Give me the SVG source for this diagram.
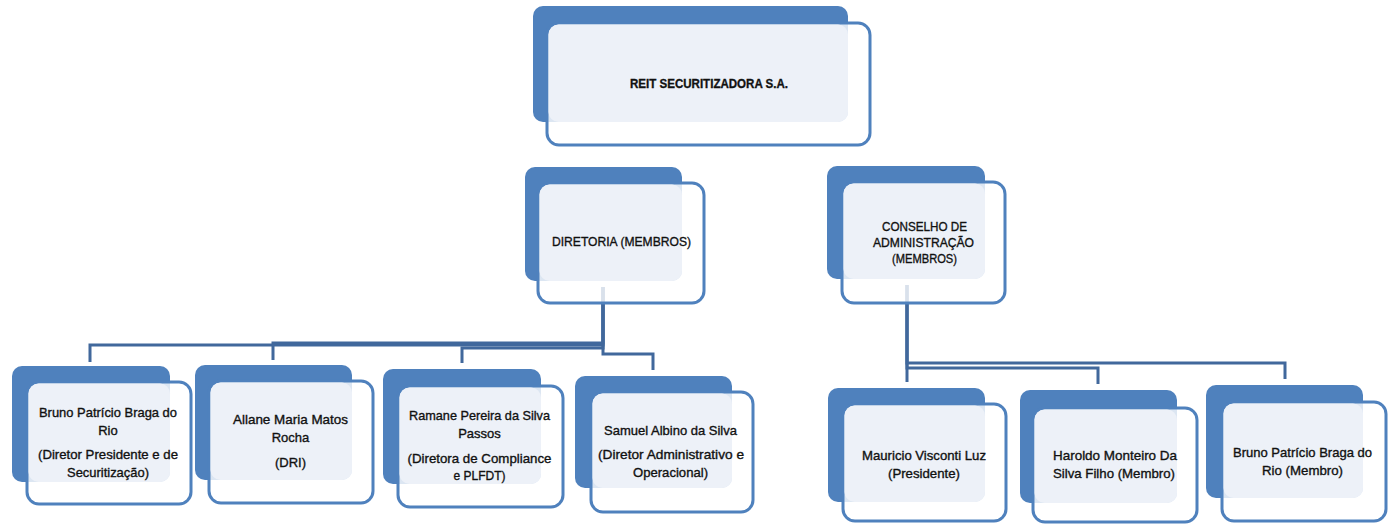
<svg xmlns="http://www.w3.org/2000/svg" width="1395" height="524" viewBox="0 0 1395 524">
<style>
.back{fill:#4F81BD}
.front{fill:#FFFFFF;fill-opacity:0.8;stroke:#4F81BD;stroke-width:3}
.light{fill:#EDF1F8}
.conn{fill:none;stroke:#41689C;stroke-width:3;stroke-linejoin:miter}
text{font-family:"Liberation Sans",Arial,sans-serif;font-size:13px;fill:#111111;stroke:#111111;stroke-width:0.35;text-anchor:middle}
</style>
<rect x="0" y="0" width="1395" height="524" fill="#FFFFFF"/>
<g id="connectors">
<path class="conn" d="M603,287 V345 H90 V362"/>
<path class="conn" d="M603,287 V343 H273 V360"/>
<path class="conn" d="M603,287 V348 H462 V363"/>
<path class="conn" d="M603,287 V354 H653 V370"/>
<path class="conn" d="M907,285 V382"/>
<path class="conn" d="M907,285 V368 H1098 V384"/>
<path class="conn" d="M907,285 V363 H1285 V379"/>
</g>
<g id="node-reit">
<rect class="back" x="533" y="6" width="315" height="116" rx="10"/>
<rect class="front" x="547" y="23" width="323" height="122" rx="12"/>
<rect class="light" x="548.5" y="24.5" width="299.5" height="97.5" rx="10"/>
<text x="709" y="88" textLength="158" lengthAdjust="spacingAndGlyphs" font-weight="bold">REIT SECURITIZADORA S.A.</text>
</g>
<g id="node-diretoria">
<rect class="back" x="525" y="167" width="157" height="114" rx="10"/>
<rect class="front" x="538" y="183" width="166" height="120" rx="12"/>
<rect class="light" x="539.5" y="184.5" width="142.5" height="96.5" rx="10"/>
<text x="621.5" y="246" textLength="139" lengthAdjust="spacingAndGlyphs">DIRETORIA (MEMBROS)</text>
</g>
<g id="node-conselho">
<rect class="back" x="827" y="166" width="158" height="113" rx="10"/>
<rect class="front" x="842" y="182" width="163" height="121" rx="12"/>
<rect class="light" x="843.5" y="183.5" width="141.5" height="95.5" rx="10"/>
<text x="924.5" y="231" textLength="85" lengthAdjust="spacingAndGlyphs">CONSELHO DE</text>
<text x="923.5" y="247" textLength="101" lengthAdjust="spacingAndGlyphs">ADMINISTRAÇÃO</text>
<text x="924.5" y="263" textLength="65" lengthAdjust="spacingAndGlyphs">(MEMBROS)</text>
</g>
<g id="node-bruno-diretor">
<rect class="back" x="12" y="366" width="158" height="116" rx="10"/>
<rect class="front" x="27" y="382" width="164" height="122" rx="12"/>
<rect class="light" x="28.5" y="383.5" width="141.5" height="98.5" rx="10"/>
<text x="108" y="417" textLength="138" lengthAdjust="spacingAndGlyphs">Bruno Patrício Braga do</text>
<text x="108" y="435">Rio</text>
<text x="108" y="459" textLength="140" lengthAdjust="spacingAndGlyphs">(Diretor Presidente e de</text>
<text x="108" y="477" textLength="82" lengthAdjust="spacingAndGlyphs">Securitização)</text>
</g>
<g id="node-allane">
<rect class="back" x="195" y="365" width="157" height="115" rx="10"/>
<rect class="front" x="209" y="381" width="164" height="122" rx="12"/>
<rect class="light" x="210.5" y="382.5" width="141.5" height="97.5" rx="10"/>
<text x="290.5" y="424" textLength="115" lengthAdjust="spacingAndGlyphs">Allane Maria Matos</text>
<text x="290.5" y="442">Rocha</text>
<text x="290.5" y="467">(DRI)</text>
</g>
<g id="node-ramane">
<rect class="back" x="383" y="369" width="158" height="115" rx="10"/>
<rect class="front" x="398" y="386" width="165" height="121" rx="12"/>
<rect class="light" x="399.5" y="387.5" width="141.5" height="96.5" rx="10"/>
<text x="479.5" y="420" textLength="141" lengthAdjust="spacingAndGlyphs">Ramane Pereira da Silva</text>
<text x="479.5" y="438">Passos</text>
<text x="479.5" y="463" textLength="144" lengthAdjust="spacingAndGlyphs">(Diretora de Compliance</text>
<text x="479.5" y="480" textLength="52" lengthAdjust="spacingAndGlyphs">e PLFDT)</text>
</g>
<g id="node-samuel">
<rect class="back" x="575" y="376" width="157" height="112" rx="10"/>
<rect class="front" x="591" y="392" width="162" height="120" rx="12"/>
<rect class="light" x="592.5" y="393.5" width="139.5" height="94.5" rx="10"/>
<text x="670.5" y="435" textLength="133" lengthAdjust="spacingAndGlyphs">Samuel Albino da Silva</text>
<text x="671" y="459" textLength="146" lengthAdjust="spacingAndGlyphs">(Diretor Administrativo e</text>
<text x="670.5" y="477" textLength="75" lengthAdjust="spacingAndGlyphs">Operacional)</text>
</g>
<g id="node-mauricio">
<rect class="back" x="828" y="388" width="157" height="114" rx="10"/>
<rect class="front" x="843" y="404" width="163" height="117" rx="12"/>
<rect class="light" x="844.5" y="405.5" width="140.5" height="96.5" rx="10"/>
<text x="924" y="460" textLength="124" lengthAdjust="spacingAndGlyphs">Mauricio Visconti Luz</text>
<text x="924" y="478" textLength="72" lengthAdjust="spacingAndGlyphs">(Presidente)</text>
</g>
<g id="node-haroldo">
<rect class="back" x="1020" y="390" width="157" height="113" rx="10"/>
<rect class="front" x="1033" y="408" width="164" height="114" rx="12"/>
<rect class="light" x="1034.5" y="409.5" width="142.5" height="93.5" rx="10"/>
<text x="1115" y="460" textLength="124" lengthAdjust="spacingAndGlyphs">Haroldo Monteiro Da</text>
<text x="1114" y="478" textLength="122" lengthAdjust="spacingAndGlyphs">Silva Filho (Membro)</text>
</g>
<g id="node-bruno-membro">
<rect class="back" x="1206" y="385" width="157" height="113" rx="10"/>
<rect class="front" x="1222" y="402" width="164" height="119" rx="12"/>
<rect class="light" x="1223.5" y="403.5" width="139.5" height="94.5" rx="10"/>
<text x="1302.5" y="457" textLength="139" lengthAdjust="spacingAndGlyphs">Bruno Patrício Braga do</text>
<text x="1302.5" y="475" textLength="81" lengthAdjust="spacingAndGlyphs">Rio (Membro)</text>
</g>
</svg>
